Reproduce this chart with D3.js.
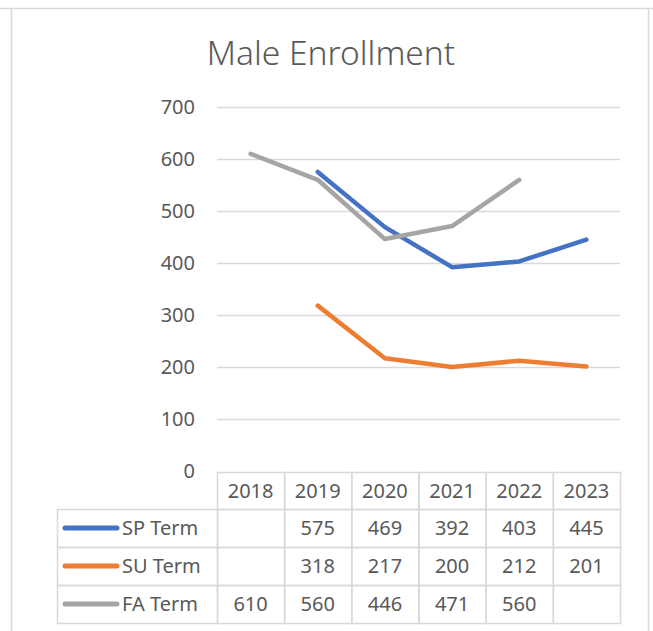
<!DOCTYPE html>
<html>
<head>
<meta charset="utf-8">
<script src="https://cdn.jsdelivr.net/npm/d3@7"></script>
<style>
  body { margin: 0; background: #fff; }
  text { font-family: 'Noto Sans', 'Open Sans', sans-serif; fill: #595959; }
</style>
</head>
<body>
<div id="chart"></div>
<script>
// Data
const years = ['2018', '2019', '2020', '2021', '2022', '2023'];
const spTerm = [null, 575, 469, 392, 403, 445];
const suTerm = [null, 318, 217, 200, 212, 201];
const faTerm = [610, 560, 446, 471, 560, null];
const seriesNames = ['SP Term', 'SU Term', 'FA Term'];
const seriesColors = ['#4472C4', '#ED7D31', '#A5A5A5'];
const yTicks = [0, 100, 200, 300, 400, 500, 600, 700];

const series = [spTerm, suTerm, faTerm].map((vals, i) => ({
    name: seriesNames[i],
    color: seriesColors[i],
    values: vals
}));

const width = 653, height = 631;
const svg = d3.select('#chart').append('svg')
    .attr('width', width)
    .attr('height', height);

// Outer chart frame
const frameColor = '#d9d9d9';
svg.append('line').attr('x1', 0).attr('x2', width).attr('y1', 8.5).attr('y2', 8.5)
    .attr('stroke', frameColor).attr('stroke-width', 1.5);
svg.append('line').attr('x1', 11.5).attr('x2', 11.5).attr('y1', 8).attr('y2', height)
    .attr('stroke', frameColor).attr('stroke-width', 1.5);
svg.append('line').attr('x1', 648.5).attr('x2', 648.5).attr('y1', 8).attr('y2', height)
    .attr('stroke', frameColor).attr('stroke-width', 1.5);

// Title
svg.append('text')
    .attr('x', 331)
    .attr('y', 65)
    .attr('text-anchor', 'middle')
    .style('font-size', '33.5px')
    .style('font-weight', 300)
    .text('Male Enrollment');

// Scales
const x = d3.scaleBand().domain(years).range([217, 620]);
const y = d3.scaleLinear().domain([0, 700]).range([471, 107]);

// Gridlines
svg.append('g')
    .selectAll('line')
    .data(yTicks.filter(d => d > 0))
    .enter()
    .append('line')
    .attr('x1', 217)
    .attr('x2', 620)
    .attr('y1', d => Math.round(y(d)) + 0.5)
    .attr('y2', d => Math.round(y(d)) + 0.5)
    .attr('stroke', frameColor)
    .attr('stroke-width', 1.5);

// Y axis labels
const yAxis = d3.axisLeft(y).tickValues(yTicks).tickSize(0).tickPadding(0);
const gY = svg.append('g')
    .attr('transform', 'translate(195,0)')
    .call(yAxis);
gY.select('.domain').remove();
gY.selectAll('text')
    .style('font-size', '20px')
    .attr('fill', '#595959')
    .attr('font-family', null);

// Lines
const line = d3.line()
    .defined(d => d.v != null)
    .x(d => x(d.year) + x.bandwidth() / 2)
    .y(d => y(d.v));

svg.append('g')
    .selectAll('path')
    .data(series)
    .enter()
    .append('path')
    .attr('d', s => line(s.values.map((v, i) => ({ year: years[i], v }))))
    .attr('fill', 'none')
    .attr('stroke', s => s.color)
    .attr('stroke-width', 4.5)
    .attr('stroke-linecap', 'round')
    .attr('stroke-linejoin', 'round');

// Data table
const headerTop = 472, rowTop = 509, rowH = 38, tableLeft = 57;
const table = svg.append('g');

// header cells
table.selectAll('.hcell')
    .data(years)
    .enter()
    .append('rect')
    .attr('class', 'hcell')
    .attr('x', d => x(d) + 0.5)
    .attr('y', headerTop + 0.5)
    .attr('width', x.bandwidth())
    .attr('height', rowTop - headerTop)
    .attr('fill', 'none')
    .attr('stroke', frameColor)
    .attr('stroke-width', 1.5);

table.selectAll('.htext')
    .data(years)
    .enter()
    .append('text')
    .attr('x', d => x(d) + x.bandwidth() / 2)
    .attr('y', (headerTop + rowTop) / 2)
    .attr('dy', '0.36em')
    .attr('text-anchor', 'middle')
    .style('font-size', '20px')
    .text(d => d);

series.forEach((s, r) => {
    const top = rowTop + r * rowH;
    const mid = top + rowH / 2;
    // legend cell
    table.append('rect')
        .attr('x', tableLeft + 0.5)
        .attr('y', top + 0.5)
        .attr('width', 217 - tableLeft)
        .attr('height', rowH)
        .attr('fill', 'none')
        .attr('stroke', frameColor)
        .attr('stroke-width', 1.5);
    table.append('line')
        .attr('x1', 65).attr('x2', 117)
        .attr('y1', mid).attr('y2', mid)
        .attr('stroke', s.color)
        .attr('stroke-width', 5)
        .attr('stroke-linecap', 'round');
    table.append('text')
        .attr('x', 122)
        .attr('y', mid)
        .attr('dy', '0.36em')
        .style('font-size', '20px')
        .text(s.name);

    // value cells
    years.forEach((yr, i) => {
        table.append('rect')
            .attr('x', x(yr) + 0.5)
            .attr('y', top + 0.5)
            .attr('width', x.bandwidth())
            .attr('height', rowH)
            .attr('fill', 'none')
            .attr('stroke', frameColor)
            .attr('stroke-width', 1.5);
        if (s.values[i] != null) {
            table.append('text')
                .attr('x', x(yr) + x.bandwidth() / 2)
                .attr('y', mid)
                .attr('dy', '0.36em')
                .attr('text-anchor', 'middle')
                .style('font-size', '20px')
                .text(s.values[i]);
        }
    });
});
</script>
</body>
</html>
